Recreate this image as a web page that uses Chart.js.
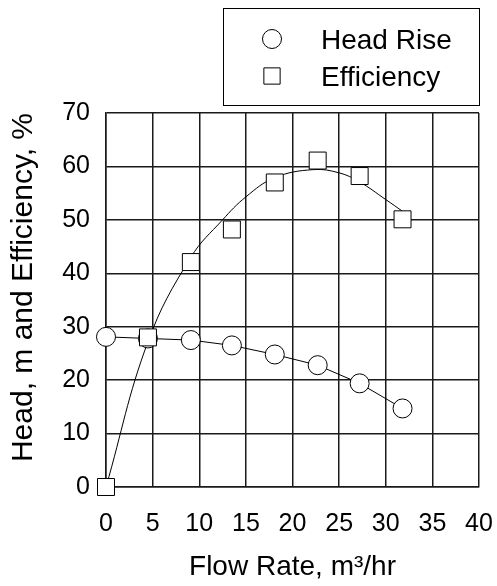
<!DOCTYPE html>
<html>
<head>
<meta charset="utf-8">
<script src="https://cdn.jsdelivr.net/npm/chart.js@4/dist/chart.umd.min.js"></script>
<style>
html,body{margin:0;padding:0;background:#fff;}
#wrap{width:497px;height:586px;position:relative;}
</style>
</head>
<body>
<div id="wrap"><canvas id="c" width="497" height="586"></canvas></div>
<script>
const flowRate = [0, 4.5, 9.1, 13.5, 18.1, 22.7, 27.2, 31.8];
const headRise = [28.1, 27.8, 27.5, 26.5, 24.8, 22.8, 19.4, 14.7];
const efficiency = [0, 28, 42.1, 48.2, 57.0, 61.1, 58.2, 50.1];
const fitFlow = [0, 4.5, 9.1, 12.5, 15, 18.1, 22.2, 25, 27.2, 30, 31.8];
const fitEfficiency = [0, 27.2, 43, 50, 54.3, 57.9, 59.4, 58.8, 57.1, 53.8, 51.6];
const xTicks = [0, 5, 10, 15, 20, 25, 30, 35, 40];
const yTicks = [0, 10, 20, 30, 40, 50, 60, 70];
const legendOrder = ['Head Rise', 'Efficiency'];

const FONT = "'Liberation Sans', Arial, sans-serif";
const toXY = (xs, ys) => xs.map((x, i) => ({x: x, y: ys[i]}));

const legendBox = {
  id: 'legendBox',
  afterDraw(chart) {
    const ctx = chart.ctx;
    ctx.save();
    ctx.strokeStyle = '#000';
    ctx.lineWidth = 1;
    ctx.strokeRect(223.5, 8.5, 256, 97);
    const ys = [39, 76];
    legendOrder.forEach((name, i) => {
      const d = chart.data.datasets.find(ds => ds.label === name);
      ctx.fillStyle = '#fff';
      ctx.strokeStyle = '#000';
      ctx.lineWidth = 1;
      Chart.helpers.drawPoint(ctx, {pointStyle: d.pointStyle, radius: d.legendRadius, borderWidth: 1}, 272, ys[i]);
      ctx.fillStyle = '#000';
      ctx.font = '28px ' + FONT;
      ctx.textBaseline = 'alphabetic';
      ctx.textAlign = 'left';
      ctx.fillText(d.label, 321, ys[i] + 10);
    });
    ctx.restore();
  }
};

new Chart(document.getElementById('c'), {
  type: 'scatter',
  data: {
    datasets: [
      {
        label: 'Efficiency',
        data: toXY(flowRate, efficiency),
        pointStyle: 'rect',
        pointRadius: 12,
        legendRadius: 11.5,
        pointBackgroundColor: '#fff',
        pointBorderColor: '#000',
        pointBorderWidth: 1,
        showLine: false,
        clip: false,
        order: 0
      },
      {
        label: 'Head Rise',
        data: toXY(flowRate, headRise),
        pointStyle: 'circle',
        pointRadius: 9.5,
        legendRadius: 9.5,
        pointBackgroundColor: '#fff',
        pointBorderColor: '#000',
        pointBorderWidth: 1,
        showLine: true,
        borderColor: '#000',
        borderWidth: 1,
        tension: 0,
        clip: false,
        order: 1
      },
      {
        label: 'Efficiency fit',
        data: toXY(fitFlow, fitEfficiency),
        pointRadius: 0,
        showLine: true,
        borderColor: '#000',
        borderWidth: 1,
        tension: 0.4,
        clip: false,
        order: 2
      }
    ]
  },
  options: {
    responsive: false,
    animation: false,
    events: [],
    layout: {padding: {left: 0, right: 18, top: 113, bottom: 0}},
    plugins: {legend: {display: false}, tooltip: {enabled: false}},
    scales: {
      x: {
        type: 'linear',
        min: 0, max: 40,
        afterBuildTicks: s => { s.ticks = xTicks.map(v => ({value: v})); },
        afterFit: s => { s.height = 99; s.paddingRight = 0; s.paddingLeft = 0; },
        grid: {color: '#1a1a1a', lineWidth: 1.5, drawTicks: false},
        border: {color: '#1a1a1a', width: 1.5},
        ticks: {color: '#000', font: {family: FONT, size: 25}, padding: 22, maxRotation: 0},
        title: {display: true, text: 'Flow Rate, m³/hr', color: '#000', font: {family: FONT, size: 28}, padding: {top: 0, bottom: 2}}
      },
      y: {
        type: 'linear',
        min: 0, max: 70,
        afterBuildTicks: s => { s.ticks = yTicks.map(v => ({value: v})); },
        afterFit: s => { s.width = 106; s.paddingTop = 0; s.paddingBottom = 0; },
        grid: {color: '#1a1a1a', lineWidth: 1.5, drawTicks: false},
        border: {color: '#1a1a1a', width: 1.5},
        ticks: {color: '#000', font: {family: FONT, size: 25}, padding: 16},
        title: {display: true, text: 'Head, m and Efficiency, %', align: 'end', color: '#000', font: {family: FONT, size: 30}, padding: {top: 6, bottom: 0}}
      }
    }
  },
  plugins: [legendBox]
});
</script>
</body>
</html>
